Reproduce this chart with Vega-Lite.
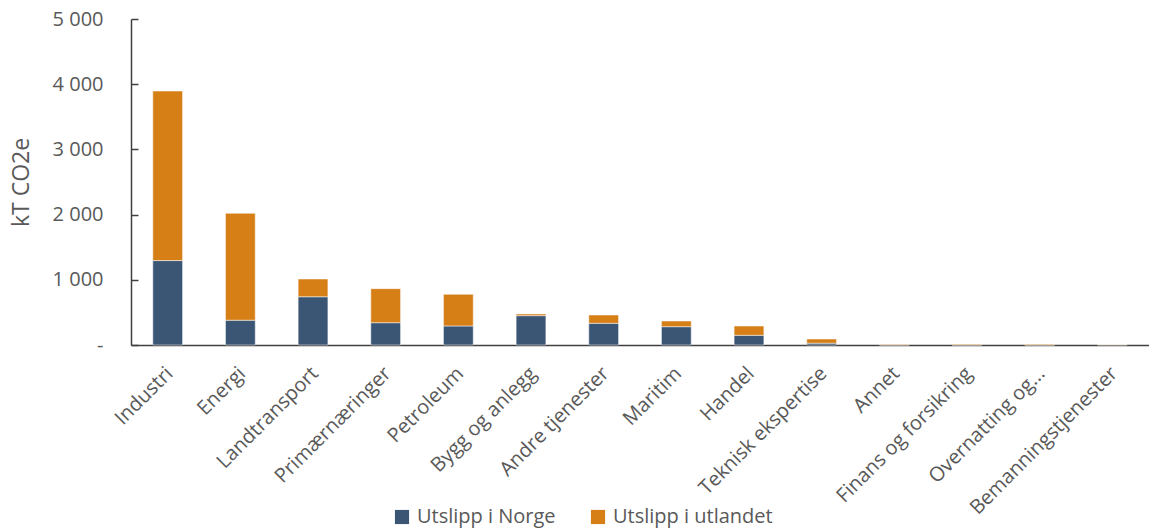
{
  "$schema": "https://vega.github.io/schema/vega-lite/v6.json",
  "width": 1018,
  "height": 326,
  "autosize": {"type": "none"},
  "padding": {"left": 131, "top": 19, "right": 0, "bottom": 184},
  "background": "white",
  "config": {
    "view": {"stroke": null},
    "font": "Open Sans"
  },
  "data": {
    "values": [
      {"naering": "Industri", "serie": "Utslipp i Norge", "verdi": 1295, "rekke": 1},
      {"naering": "Industri", "serie": "Utslipp i utlandet", "verdi": 2600, "rekke": 2},
      {"naering": "Energi", "serie": "Utslipp i Norge", "verdi": 380, "rekke": 1},
      {"naering": "Energi", "serie": "Utslipp i utlandet", "verdi": 1640, "rekke": 2},
      {"naering": "Landtransport", "serie": "Utslipp i Norge", "verdi": 740, "rekke": 1},
      {"naering": "Landtransport", "serie": "Utslipp i utlandet", "verdi": 272, "rekke": 2},
      {"naering": "Primærnæringer", "serie": "Utslipp i Norge", "verdi": 342, "rekke": 1},
      {"naering": "Primærnæringer", "serie": "Utslipp i utlandet", "verdi": 522, "rekke": 2},
      {"naering": "Petroleum", "serie": "Utslipp i Norge", "verdi": 292, "rekke": 1},
      {"naering": "Petroleum", "serie": "Utslipp i utlandet", "verdi": 486, "rekke": 2},
      {"naering": "Bygg og anlegg", "serie": "Utslipp i Norge", "verdi": 450, "rekke": 1},
      {"naering": "Bygg og anlegg", "serie": "Utslipp i utlandet", "verdi": 26, "rekke": 2},
      {"naering": "Andre tjenester", "serie": "Utslipp i Norge", "verdi": 333, "rekke": 1},
      {"naering": "Andre tjenester", "serie": "Utslipp i utlandet", "verdi": 127, "rekke": 2},
      {"naering": "Maritim", "serie": "Utslipp i Norge", "verdi": 281, "rekke": 1},
      {"naering": "Maritim", "serie": "Utslipp i utlandet", "verdi": 87, "rekke": 2},
      {"naering": "Handel", "serie": "Utslipp i Norge", "verdi": 149, "rekke": 1},
      {"naering": "Handel", "serie": "Utslipp i utlandet", "verdi": 142, "rekke": 2},
      {"naering": "Teknisk ekspertise", "serie": "Utslipp i Norge", "verdi": 28, "rekke": 1},
      {"naering": "Teknisk ekspertise", "serie": "Utslipp i utlandet", "verdi": 64, "rekke": 2},
      {"naering": "Annet", "serie": "Utslipp i Norge", "verdi": 3, "rekke": 1},
      {"naering": "Annet", "serie": "Utslipp i utlandet", "verdi": 10, "rekke": 2},
      {"naering": "Finans og forsikring", "serie": "Utslipp i Norge", "verdi": 2, "rekke": 1},
      {"naering": "Finans og forsikring", "serie": "Utslipp i utlandet", "verdi": 12, "rekke": 2},
      {"naering": "Overnatting og servering", "serie": "Utslipp i Norge", "verdi": 2, "rekke": 1},
      {"naering": "Overnatting og servering", "serie": "Utslipp i utlandet", "verdi": 12, "rekke": 2},
      {"naering": "Bemanningstjenester", "serie": "Utslipp i Norge", "verdi": 5, "rekke": 1},
      {"naering": "Bemanningstjenester", "serie": "Utslipp i utlandet", "verdi": 4, "rekke": 2}
    ]
  },
  "mark": {"type": "bar", "stroke": "#ffffff", "strokeOpacity": 0.5, "strokeWidth": 1},
  "encoding": {
    "x": {
      "field": "naering",
      "type": "nominal",
      "sort": null,
      "scale": {"paddingInner": 0.59, "paddingOuter": 0.3},
      "axis": {
        "title": null,
        "labelAngle": -45,
        "labelFontSize": 20,
        "labelColor": "#595959",
        "labelPadding": 18,
        "labelOffset": -5,
        "labelLimit": 300,
        "ticks": false,
        "domainColor": "#404040",
        "domainWidth": 1.5,
        "labelExpr": "datum.label == 'Overnatting og servering' ? 'Overnatting og...' : datum.label"
      }
    },
    "y": {
      "field": "verdi",
      "type": "quantitative",
      "stack": "zero",
      "scale": {"domain": [0, 5000], "nice": false},
      "axis": {
        "title": "kT CO2e",
        "titleFontSize": 23,
        "titleFontWeight": "normal",
        "titleColor": "#595959",
        "titlePadding": 19,
        "values": [0, 1000, 2000, 3000, 4000, 5000],
        "labelExpr": "datum.value == 0 ? '-' : replace(format(datum.value, ','), ',', ' ')",
        "labelFontSize": 20,
        "labelColor": "#595959",
        "labelPadding": 35,
        "tickSize": -7,
        "tickColor": "#404040",
        "tickWidth": 1.5,
        "domainColor": "#404040",
        "domainWidth": 1.5,
        "grid": false,
        "encode": {
          "labels": {
            "update": {
              "dx": {"signal": "datum.value == 0 ? -11 : 0"}
            }
          }
        }
      }
    },
    "color": {
      "field": "serie",
      "type": "nominal",
      "scale": {"domain": ["Utslipp i Norge", "Utslipp i utlandet"], "range": ["#3a5674", "#d67f17"]},
      "legend": {
        "title": null,
        "orient": "none",
        "direction": "horizontal",
        "legendX": 261,
        "legendY": 488,
        "symbolType": "square",
        "symbolSize": 200,
        "symbolStrokeWidth": 0,
        "labelFontSize": 20,
        "labelColor": "#595959",
        "columnPadding": 32,
        "labelOffset": 5
      }
    },
    "order": {"field": "rekke", "type": "quantitative"}
  }
}
